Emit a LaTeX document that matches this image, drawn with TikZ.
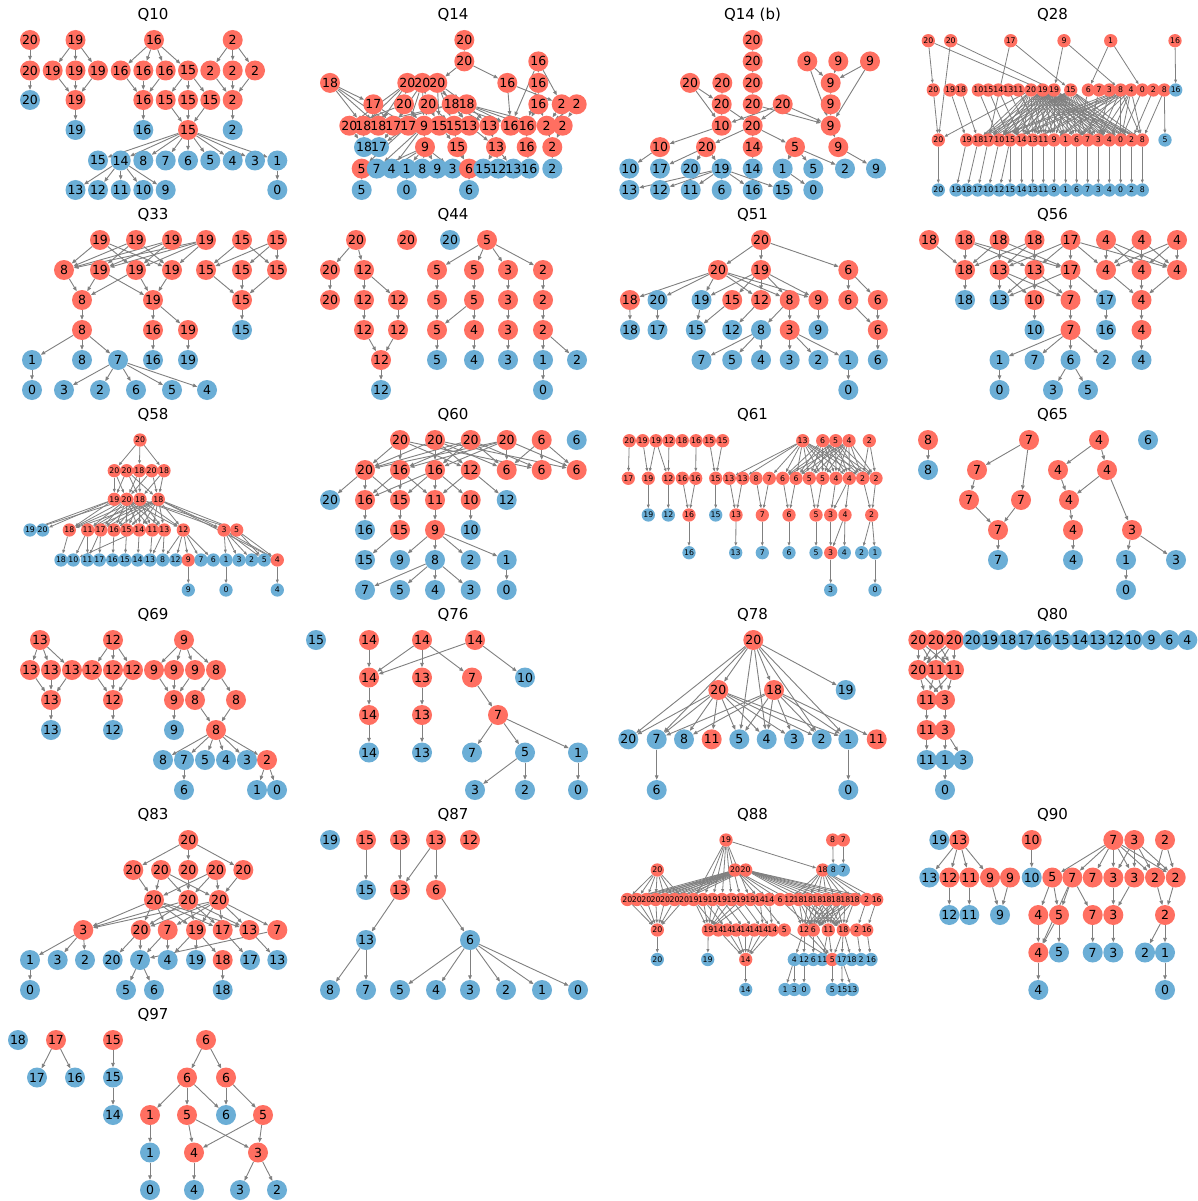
\documentclass[tikz,border=0pt]{standalone}
\usepackage{fontspec}
\setmainfont{DejaVu Sans}
\usetikzlibrary{arrows.meta}
\pgfdeclarelayer{bg}
\pgfsetlayers{bg,main}
\definecolor{nr}{HTML}{FF6F61}
\definecolor{nb}{HTML}{6BAED6}
\definecolor{egray}{HTML}{808080}
\tikzset{
 nd/.style={circle,inner sep=0pt,minimum size=20pt},
 nds/.style={circle,inner sep=0pt,minimum size=13.3pt},
 lbl/.style={inner sep=0pt,font=\fontsize{12.5}{13}\selectfont},
 lbls/.style={inner sep=0pt,font=\fontsize{7.8}{9}\selectfont},
 ed/.style={draw=egray,line width=0.9pt,-{Triangle[length=4.5pt,width=3.6pt]}},
 eds/.style={draw=egray,line width=0.8pt,-{Triangle[length=3.5pt,width=2.8pt]}},
 ttl/.style={anchor=base,font=\fontsize{15}{16}\selectfont},
}
\gdef\alllabels{}
\newcommand\Row[3]{\foreach \xx/\cc/\ll [count=\i] in {#3}{\node[nd,fill=n\cc] (#1-\i) at (\xx,#2) {};\xdef\alllabels{\unexpanded\expandafter{\alllabels}\noexpand\node[lbl] (#1-\i-t) at (\xx,#2) {\ll};}}}
\newcommand\RowS[3]{\foreach \xx/\cc/\ll [count=\i] in {#3}{\node[nds,fill=n\cc] (#1-\i) at (\xx,#2) {};\xdef\alllabels{\unexpanded\expandafter{\alllabels}\noexpand\node[lbls] (#1-\i-t) at (\xx,#2) {\ll};}}}
\newcommand\Ed[1]{\foreach \ea/\eb in {#1}{\draw[ed] (\ea)--(\eb);}}
\newcommand\Es[1]{\foreach \ea/\eb in {#1}{\draw[eds] (\ea)--(\eb);}}
\newcommand\Fan[2]{\foreach \fs in {#1}{\foreach \ft in {#2}{\draw[ed] (\fs)--(\ft);}}}
\newcommand\FanS[2]{\foreach \fs in {#1}{\foreach \ft in {#2}{\draw[eds] (\fs)--(\ft);}}}
\begin{document}
\begin{tikzpicture}[x=1pt,y=-1pt]
\begin{pgfonlayer}{bg}
\fill[white] (0,0) rectangle (1198,1201);
\end{pgfonlayer}
\useasboundingbox (0,0) rectangle (1198,1201);
% titles
\node[ttl] (t1) at (153,19.5) {Q10};
\node[ttl] (t2) at (453,19.5) {Q14};
\node[ttl] (t3) at (752.5,19.5) {Q14 (b)};
\node[ttl] (t4) at (1052.5,19.5) {Q28};
\node[ttl] (t5) at (153,219.5) {Q33};
\node[ttl] (t6) at (453,219.5) {Q44};
\node[ttl] (t7) at (752.5,219.5) {Q51};
\node[ttl] (t8) at (1052.5,219.5) {Q56};
\node[ttl] (t9) at (153,419.5) {Q58};
\node[ttl] (t10) at (453,419.5) {Q60};
\node[ttl] (t11) at (752.5,419.5) {Q61};
\node[ttl] (t12) at (1052.5,419.5) {Q65};
\node[ttl] (t13) at (153,619.5) {Q69};
\node[ttl] (t14) at (453,619.5) {Q76};
\node[ttl] (t15) at (752.5,619.5) {Q78};
\node[ttl] (t16) at (1052.5,619.5) {Q80};
\node[ttl] (t17) at (153,819.5) {Q83};
\node[ttl] (t18) at (453,819.5) {Q87};
\node[ttl] (t19) at (752.5,819.5) {Q88};
\node[ttl] (t20) at (1052.5,819.5) {Q90};
\node[ttl] (t21) at (153,1019.5) {Q97};

% ---------- Q10
\Row{a1}{40}{30/r/20, 75.5/r/19, 154/r/16, 232.7/r/2}
\Row{a2}{70.5}{30/r/20, 52.7/r/19, 75.5/r/19, 98/r/19, 120.7/r/16, 143.3/r/16, 165.7/r/16, 188/r/15, 210.3/r/2, 232.7/r/2, 255/r/2}
\Row{a3}{100}{30/b/20, 75.5/r/19, 143.3/r/16, 165.7/r/15, 188/r/15, 210.3/r/15, 232.7/r/2}
\Row{a4}{130}{75.5/b/19, 143.3/b/16, 188/r/15, 232.7/b/2}
\Row{a5}{160.5}{98/b/15, 120.7/b/14, 143.3/b/8, 165.7/b/7, 188/b/6, 210.3/b/5, 232.7/b/4, 255/b/3, 277.3/b/1}
\Row{a6}{190}{75.5/b/13, 98/b/12, 120.7/b/11, 143.3/b/10, 165.7/b/9, 277.3/b/0}
\begin{pgfonlayer}{bg}
\Ed{a1-1/a2-1, a2-1/a3-1, a1-2/a2-2, a1-2/a2-3, a1-2/a2-4, a2-2/a3-2, a2-3/a3-2, a2-4/a3-2, a3-2/a4-1, a1-3/a2-5, a1-3/a2-6, a1-3/a2-7, a1-3/a2-8, a2-5/a3-3, a2-6/a3-3, a2-7/a3-3, a3-3/a4-2, a2-8/a3-4, a2-8/a3-5, a2-8/a3-6, a3-4/a4-3, a3-5/a4-3, a3-6/a4-3, a1-4/a2-9, a1-4/a2-10, a1-4/a2-11, a2-9/a3-7, a2-10/a3-7, a2-11/a3-7, a3-7/a4-4, a5-9/a6-6}
\Fan{a4-3}{a5-1,a5-2,a5-3,a5-4,a5-5,a5-6,a5-7,a5-8,a5-9}
\Fan{a5-2}{a6-1,a6-2,a6-3,a6-4,a6-5}
\end{pgfonlayer}

% ---------- Q14
\Row{b1}{40}{464.3/r/20}
\Row{b2}{61.4}{464.3/r/20, 538.3/r/16}
\Row{b3}{82.9}{330/r/18, 407.3/r/20, 422.3/r/20, 437.3/r/20, 507.3/r/16, 538.3/r/16}
\Row{b4}{104.3}{373.3/r/17, 404/r/20, 428.3/r/20, 451.7/r/18, 466.7/r/18, 538.3/r/16, 561.7/r/2, 576.7/r/2}
\Row{b5}{125.7}{349.3/r/20, 363.3/r/18, 378.3/r/18, 393.3/r/17, 408.3/r/17, 424/r/9, 439.3/r/15, 454/r/15, 469.3/r/13, 489.3/r/13, 510.7/r/16, 526.7/r/16, 546.7/r/2, 562.7/r/2}
\Row{b6}{147.1}{364/b/18, 379/b/17, 425/r/9, 457.3/r/15, 496/r/13, 526.7/r/16, 552.3/r/2}
\Row{b7}{168.6}{361.7/r/5, 376.7/b/7, 391.7/b/4, 406.7/b/1, 422.3/b/8, 437.3/b/9, 452.7/b/3, 469/r/6, 483.3/b/15, 498.3/b/12, 513.3/b/13, 529.3/b/16, 552.3/b/2}
\Row{b8}{190}{361.7/b/5, 406.7/b/0, 469/b/6}
\begin{pgfonlayer}{bg}
\Ed{b1-1/b2-1, b2-1/b3-4, b2-1/b3-5, b2-2/b3-6, b2-2/b5-11, b2-2/b4-7, b3-6/b4-6, b3-6/b5-12, b4-6/b5-12, b4-6/b5-13, b3-5/b5-11, b3-5/b4-7, b4-7/b5-13, b4-7/b5-14, b4-8/b5-13, b4-8/b5-14, b5-13/b6-7, b5-14/b6-7, b6-7/b7-13, b5-12/b6-6, b6-6/b7-12, b3-1/b4-1, b3-1/b5-2, b3-1/b5-3, b3-1/b5-4, b3-2/b5-1, b3-2/b5-2, b3-2/b5-3, b3-2/b4-2, b3-3/b4-3, b3-3/b5-4, b3-3/b5-5, b3-3/b5-6, b3-4/b4-4, b3-4/b4-5, b3-4/b5-7, b3-4/b5-8, b3-4/b5-9, b4-1/b5-4, b4-1/b5-5, b4-2/b5-1, b4-2/b5-6, b4-3/b5-6, b4-3/b5-7, b4-3/b5-8, b4-4/b5-9, b4-4/b5-10, b4-4/b5-11, b4-5/b5-10, b4-5/b5-11, b4-5/b5-12, b4-5/b5-13, b4-4/b5-2, b4-4/b5-3, b5-1/b6-1, b5-2/b6-1, b5-4/b6-2, b5-5/b6-2, b5-6/b6-3, b5-7/b6-4, b5-8/b6-4, b5-9/b6-5, b5-10/b6-5, b5-6/b7-2, b5-6/b7-3, b5-5/b7-1, b6-3/b7-2, b6-3/b7-3, b6-3/b7-4, b6-3/b7-5, b6-3/b7-6, b6-3/b7-7, b6-4/b7-8, b6-5/b7-9, b6-5/b7-10, b6-5/b7-11, b7-1/b8-1, b7-4/b8-2, b7-8/b8-3}
\end{pgfonlayer}

% ---------- Q14 (b)
\Row{c1}{40}{752.7/r/20}
\Row{c2}{61.4}{752.7/r/20, 807.3/r/9, 838.3/r/9, 870/r/9}
\Row{c3}{82.9}{690/r/20, 722.3/r/20, 752.7/r/20, 830.7/r/9}
\Row{c4}{104.3}{721.7/r/20, 752.7/r/20, 782.7/r/20, 830.7/r/9}
\Row{c5}{125.7}{721.7/r/10, 752.7/r/20, 830.7/r/9}
\Row{c6}{147.1}{660/r/10, 706/r/20, 752.7/r/14, 795/r/5, 838.3/r/9}
\Row{c7}{168.6}{629.3/b/10, 660/b/17, 690.7/b/20, 721.7/b/19, 752.7/b/14, 782.7/b/1, 813.3/b/5, 845/b/2, 876/b/9}
\Row{c8}{190}{629.3/b/13, 660/b/12, 690.7/b/11, 721.7/b/6, 752.7/b/16, 782.7/b/15, 813.3/b/0}
\begin{pgfonlayer}{bg}
\Ed{c1-1/c2-1, c2-1/c3-3, c3-3/c4-2, c4-2/c5-2, c3-1/c4-1, c3-1/c5-1, c3-2/c4-1, c4-1/c5-1, c4-1/c5-2, c4-2/c5-3, c4-3/c5-1, c4-3/c5-2, c4-3/c5-3, c5-2/c6-2, c5-2/c6-3, c5-2/c6-4, c5-1/c6-1, c6-1/c7-1, c6-2/c7-2, c6-2/c7-3, c6-2/c7-4, c6-3/c7-5, c6-4/c7-6, c6-4/c7-7, c6-4/c7-8, c6-5/c7-9, c7-6/c8-7, c2-2/c3-4, c2-2/c5-3, c2-3/c3-4, c2-4/c3-4, c2-4/c5-3, c3-4/c4-4, c4-4/c5-3, c5-3/c6-5}
\Fan{c7-4}{c8-1,c8-2,c8-3,c8-4,c8-5,c8-6}
\end{pgfonlayer}

% ---------- Q28
\RowS{d1}{40.7}{928.3/r/20, 950.7/r/20, 1010.7/r/17, 1064/r/9, 1110.7/r/1, 1175/r/16}
\RowS{d2}{90}{933.3/r/20, 950/r/19, 961/r/18, 978.3/r/10, 988.3/r/15, 998.3/r/14, 1008.3/r/13, 1018.3/r/11, 1031/r/20, 1042.7/r/19, 1054/r/19, 1070.7/r/15, 1088.3/r/6, 1099/r/7, 1109.3/r/3, 1120.7/r/8, 1131/r/4, 1142.3/r/0, 1153.3/r/2, 1164.3/r/8, 1175.7/b/16}
\RowS{d3}{140}{938.3/r/20, 966.7/r/19, 978.3/r/18, 988.3/r/17, 999.3/r/10, 1010/r/15, 1021.7/r/14, 1032.7/r/13, 1043.3/r/11, 1054/r/9, 1065.7/r/1, 1076.7/r/6, 1087.7/r/7, 1098.3/r/3, 1109.3/r/4, 1120.7/r/0, 1131.7/r/2, 1142.3/r/8, 1165/b/5}
\RowS{d4}{190}{938.3/b/20, 956/b/19, 966.7/b/18, 977.7/b/17, 988.3/b/10, 999.3/b/12, 1010/b/15, 1021.7/b/14, 1032.7/b/13, 1043.3/b/11, 1054/b/9, 1065.7/b/1, 1076.7/b/6, 1087.7/b/7, 1098.3/b/3, 1109.3/b/4, 1120.7/b/0, 1131.7/b/2, 1142.3/b/8}
\begin{pgfonlayer}{bg}
\Es{d1-1/d2-1, d1-1/d2-10, d1-2/d3-1, d1-2/d2-11, d2-1/d3-1, d1-3/d2-12, d1-3/d3-4, d1-4/d2-11, d1-4/d2-16, d1-5/d2-13, d1-5/d2-18, d1-6/d2-21, d2-2/d3-2, d2-3/d3-3, d2-4/d3-5, d2-5/d3-6, d2-6/d3-7, d2-7/d3-8, d2-8/d3-9, d2-9/d3-1, d2-20/d3-19, d2-20/d3-18, d2-19/d3-17, d2-18/d3-16, d2-17/d3-15, d2-15/d3-14, d2-14/d3-13, d2-13/d3-12}
\Es{d3-1/d4-1, d3-2/d4-2, d3-3/d4-3, d3-4/d4-4, d3-5/d4-5, d3-6/d4-6, d3-6/d4-7, d3-7/d4-8, d3-8/d4-9, d3-9/d4-10, d3-10/d4-11, d3-11/d4-12, d3-12/d4-13, d3-13/d4-14, d3-14/d4-15, d3-15/d4-16, d3-16/d4-17, d3-17/d4-18, d3-18/d4-19}
\FanS{d2-9,d2-10,d2-11,d2-12}{d3-3,d3-4,d3-5,d3-6,d3-7,d3-8,d3-9,d3-10,d3-11,d3-12,d3-13,d3-14,d3-15,d3-16,d3-17,d3-18}
\FanS{d2-16,d2-17}{d3-4,d3-6,d3-8,d3-10,d3-12,d3-14,d3-16,d3-18}
\end{pgfonlayer}

% ---------- Q33
\Row{m1}{240}{100/r/19, 136/r/19, 172/r/19, 206/r/19, 242/r/15, 277/r/15}
\Row{m2}{270}{64/r/8, 100/r/19, 136/r/19, 172/r/19, 206/r/15, 242/r/15, 277/r/15}
\Row{m3}{300}{82/r/8, 153/r/19, 242/r/15}
\Row{m4}{330}{82/r/8, 153/r/16, 188/r/19, 242/b/15}
\Row{m5}{360}{32/b/1, 82/b/8, 118/b/7, 153/b/16, 188/b/19}
\Row{m6}{390}{32/b/0, 64/b/3, 100/b/2, 136/b/6, 172/b/5, 207/b/4}
\begin{pgfonlayer}{bg}
\Ed{m1-1/m2-1, m1-1/m2-3, m1-1/m2-4, m1-2/m2-1, m1-2/m2-2, m1-2/m2-4, m1-3/m2-1, m1-3/m2-2, m1-3/m2-3, m1-4/m2-1, m1-4/m2-2, m1-4/m2-3, m1-4/m2-4, m1-5/m2-5, m1-5/m2-7, m1-6/m2-5, m1-6/m2-6, m1-6/m2-7, m2-1/m3-1, m2-2/m3-1, m2-2/m3-2, m2-3/m3-1, m2-3/m3-2, m2-4/m3-2, m2-5/m3-3, m2-6/m3-3, m2-7/m3-3, m3-1/m4-1, m3-2/m4-2, m3-2/m4-3, m3-3/m4-4, m4-1/m5-1, m4-1/m5-2, m4-1/m5-3, m4-2/m5-4, m4-3/m5-5, m5-1/m6-1}
\Fan{m5-3}{m6-2,m6-3,m6-4,m6-5,m6-6}
\end{pgfonlayer}

% ---------- Q44
\Row{n1}{240}{356/r/20, 407/r/20, 450/b/20, 487/r/5}
\Row{n2}{270}{330/r/20, 364/r/12, 437/r/5, 474/r/5, 508/r/3, 543/r/2}
\Row{n3}{300}{330/r/20, 364/r/12, 398/r/12, 437/r/5, 474/r/5, 508/r/3, 543/r/2}
\Row{n4}{330}{364/r/12, 398/r/12, 437/r/5, 474/r/4, 508/r/3, 543/r/2}
\Row{n5}{360}{381/r/12, 437/b/5, 474/b/4, 508/b/3, 543/b/1, 577/b/2}
\Row{n6}{390}{381/b/12, 543/b/0}
\begin{pgfonlayer}{bg}
\Ed{n1-1/n2-1, n1-1/n2-2, n2-1/n3-1, n2-2/n3-2, n2-2/n3-3, n3-2/n4-1, n3-3/n4-2, n4-1/n5-1, n4-2/n5-1, n5-1/n6-1, n1-4/n2-3, n1-4/n2-4, n1-4/n2-5, n1-4/n2-6, n2-3/n3-4, n2-4/n3-5, n3-4/n4-3, n3-5/n4-3, n3-5/n4-4, n2-5/n3-6, n3-6/n4-5, n2-6/n3-7, n3-7/n4-6, n4-3/n5-2, n4-4/n5-3, n4-5/n5-4, n4-6/n5-5, n4-6/n5-6, n5-5/n6-2}
\end{pgfonlayer}

% ---------- Q51
\Row{o1}{240}{761/r/20}
\Row{o2}{270}{718/r/20, 761/r/19, 848.3/r/6}
\Row{o3}{300}{629.9/r/18, 657.5/b/20, 701.5/b/19, 732.2/r/15, 761/r/12, 789.7/r/8, 818.4/r/9, 848.3/r/6, 877.8/r/6}
\Row{o4}{330}{630/b/18, 657.5/b/17, 695.8/b/15, 732.2/b/12, 761/b/8, 789.7/r/3, 818.4/b/9, 877.8/r/6}
\Row{o5}{360}{701.5/b/7, 732.2/b/5, 761/b/4, 789.7/b/3, 818.4/b/2, 848.3/b/1, 877.8/b/6}
\Row{o6}{390}{848.3/b/0}
\begin{pgfonlayer}{bg}
\Ed{o1-1/o2-1, o1-1/o2-2, o1-1/o2-3, o2-1/o3-1, o2-1/o3-2, o2-1/o3-3, o2-1/o3-5, o2-1/o3-6, o2-1/o3-7, o2-2/o3-3, o2-2/o3-4, o2-2/o3-5, o2-2/o3-6, o2-2/o3-7, o2-3/o3-8, o2-3/o3-9, o3-1/o4-1, o3-2/o4-2, o3-3/o4-3, o3-4/o4-3, o3-5/o4-4, o3-6/o4-5, o3-6/o4-6, o3-7/o4-7, o3-8/o4-8, o3-9/o4-8, o4-5/o5-1, o4-5/o5-2, o4-5/o5-3, o4-6/o5-4, o4-6/o5-5, o4-6/o5-6, o4-8/o5-7, o5-6/o6-1}
\end{pgfonlayer}

% ---------- Q56
\Row{p1}{240}{929/r/18, 965/r/18, 999.5/r/18, 1034.5/r/18, 1070.5/r/17, 1106/r/4, 1141.5/r/4, 1177/r/4}
\Row{p2}{270}{965/r/18, 999.5/r/13, 1034.5/r/13, 1070.5/r/17, 1106/r/4, 1141.5/r/4, 1177/r/4}
\Row{p3}{300}{965/b/18, 999.5/b/13, 1034.5/r/10, 1070.5/r/7, 1106/b/17, 1141.5/r/4}
\Row{p4}{330}{1034.5/b/10, 1070.5/r/7, 1106/b/16, 1141.5/r/4}
\Row{p5}{360}{999.5/b/1, 1034.5/b/7, 1070.5/b/6, 1106/b/2, 1141.5/b/4}
\Row{p6}{390}{999.5/b/0, 1053/b/3, 1088/b/5}
\begin{pgfonlayer}{bg}
\Ed{p1-1/p2-1, p1-2/p2-1, p1-2/p2-3, p1-2/p2-4, p1-3/p2-1, p1-3/p2-2, p1-3/p2-4, p1-4/p2-1, p1-4/p2-2, p1-4/p2-3, p1-5/p2-2, p1-5/p2-3, p1-5/p2-4, p1-5/p2-5, p1-5/p2-7, p1-6/p2-5, p1-6/p2-6, p1-6/p2-7, p1-7/p2-5, p1-7/p2-6, p1-7/p2-7, p1-8/p2-5, p1-8/p2-6, p1-8/p2-7, p2-1/p3-1, p2-2/p3-2, p2-2/p3-3, p2-2/p3-4, p2-3/p3-2, p2-3/p3-3, p2-3/p3-4, p2-4/p3-2, p2-4/p3-4, p2-4/p3-5, p2-5/p3-6, p2-6/p3-6, p2-7/p3-6, p3-3/p4-1, p3-4/p4-2, p3-5/p4-3, p3-6/p4-4, p4-2/p5-1, p4-2/p5-2, p4-2/p5-3, p4-2/p5-4, p4-4/p5-5, p5-1/p6-1, p5-3/p6-2, p5-3/p6-3}
\end{pgfonlayer}

% ---------- Q58
\RowS{e1}{440}{140/r/20}
\RowS{e2}{470.7}{114.3/r/20, 126.7/r/20, 139.3/r/18, 151.7/r/20, 164/r/18}
\RowS{e3}{499.3}{114.3/r/19, 126.7/r/20, 140/r/18, 158.3/r/18}
\RowS{e4}{530}{30/b/19, 42.7/b/20, 69.3/r/18, 87.7/r/11, 100.7/r/17, 114/r/16, 126.7/r/15, 139.3/r/14, 152.3/r/11, 164.3/r/13, 183.3/r/12, 224/r/3, 236.7/r/5}
\RowS{e5}{560}{61/b/18, 73.3/b/10, 87.3/b/11, 99.3/b/17, 112.7/b/16, 125/b/15, 137.7/b/14, 150/b/13, 162.7/b/8, 175.7/b/12, 188.3/r/9, 201/b/7, 213.3/b/6, 226/b/1, 239/b/3, 251.7/b/2, 264.3/b/5, 277.3/r/4}
\RowS{e6}{590}{188.3/b/9, 226/b/0, 277.3/b/4}
\begin{pgfonlayer}{bg}
\Es{e1-1/e2-1, e1-1/e2-3, e1-1/e2-5, e2-1/e3-1, e2-1/e3-2, e2-2/e3-1, e2-2/e3-3, e2-3/e3-2, e2-3/e3-3, e2-4/e3-2, e2-4/e3-4, e2-5/e3-4, e2-5/e3-3, e2-2/e3-4, e3-1/e4-1, e3-1/e4-2, e3-2/e4-1, e3-1/e4-3, e3-3/e4-12, e3-3/e4-13, e3-4/e4-12, e3-4/e4-13, e3-4/e5-18}
\FanS{e3-2,e3-3,e3-4}{e4-3,e4-4,e4-5,e4-6,e4-7,e4-8,e4-9,e4-10,e4-11}
\Es{e4-3/e5-1, e4-4/e5-2, e4-4/e5-3, e4-5/e5-3, e4-5/e5-4, e4-6/e5-5, e4-7/e5-6, e4-8/e5-7, e4-8/e5-2, e4-9/e5-8, e4-10/e5-8, e4-10/e5-9, e4-11/e5-9, e4-11/e5-10, e4-11/e5-11, e4-11/e5-12, e4-11/e5-13, e4-12/e5-14, e4-12/e5-15, e4-12/e5-16, e4-12/e5-17, e4-12/e5-18, e4-13/e5-17, e4-13/e5-18, e5-11/e6-1, e5-14/e6-2, e5-18/e6-3}
\end{pgfonlayer}

% ---------- Q60
\Row{g1}{440}{400/r/20, 435/r/20, 470.7/r/20, 506.7/r/20, 541.7/r/6, 576.7/b/6}
\Row{g2}{470}{365/r/20, 400/r/16, 435/r/16, 470.7/r/12, 506.7/r/6, 541.7/r/6, 576.7/r/6}
\Row{g3}{500}{330/b/20, 365/r/16, 400/r/15, 435/r/11, 470.7/r/10, 506.7/b/12}
\Row{g4}{530}{365/b/16, 400/r/15, 435/r/9, 470.7/b/10}
\Row{g5}{560}{365/b/15, 400/b/9, 435/b/8, 470.7/b/2, 506.7/b/1}
\Row{g6}{590}{365/b/7, 400/b/5, 435/b/4, 470.7/b/3, 506.7/b/0}
\begin{pgfonlayer}{bg}
\Fan{g1-1}{g2-1,g2-2,g2-4,g2-6}
\Fan{g1-2}{g2-1,g2-3,g2-4,g2-5,g2-7}
\Fan{g1-3}{g2-1,g2-2,g2-3,g2-5,g2-6}
\Fan{g1-4}{g2-1,g2-2,g2-3,g2-5,g2-7}
\Fan{g1-5}{g2-5,g2-6,g2-7}
\Ed{g2-1/g3-1, g2-1/g3-2, g2-1/g3-3, g2-2/g3-2, g2-2/g3-3, g2-2/g3-4, g2-3/g3-2, g2-3/g3-3, g2-3/g3-4, g2-3/g3-5, g2-4/g3-4, g2-4/g3-6, g3-2/g4-1, g3-3/g4-2, g3-4/g4-3, g3-5/g4-4, g4-2/g5-1, g5-5/g6-5}
\Fan{g4-3}{g5-2,g5-3,g5-4,g5-5}
\Fan{g5-3}{g6-1,g6-2,g6-3,g6-4}
\end{pgfonlayer}

% ---------- Q61
\RowS{f1}{440.7}{629.3/r/20, 642.7/r/19, 656/r/19, 669/r/12, 682.3/r/18, 696/r/16, 709.3/r/15, 722.7/r/15, 802.7/r/13, 822.7/r/6, 835.7/r/5, 849/r/4, 869.3/r/2}
\RowS{f2}{478.3}{628.3/r/17, 648.3/r/19, 668.3/r/12, 682.3/r/16, 695.7/r/16, 715.7/r/15, 729.3/r/13, 742.7/r/13, 756/r/8, 769.3/r/7, 782.7/r/6, 796/r/6, 809.3/r/5, 822.7/r/5, 836/r/4, 849.3/r/4, 862.7/r/2, 876/r/2}
\RowS{f3}{515}{648.3/b/19, 668.3/b/12, 689/r/16, 715.7/b/15, 736/r/13, 762.3/r/7, 789/r/6, 816/r/5, 830.7/r/3, 845/r/4, 871.7/r/2}
\RowS{f4}{552.7}{689/b/16, 735.7/b/13, 762.3/b/7, 789/b/6, 816/b/5, 830.7/r/3, 844.3/b/4, 861.7/b/2, 875/b/1}
\RowS{f5}{590}{830.7/b/3, 875/b/0}
\begin{pgfonlayer}{bg}
\Es{f1-1/f2-1, f1-2/f2-2, f1-3/f2-2, f1-3/f2-3, f1-4/f2-3, f1-6/f2-5, f1-7/f2-6, f1-8/f2-6, f1-13/f2-17, f1-13/f2-18}
\FanS{f1-9}{f2-7,f2-8,f2-10,f2-11,f2-12,f2-13,f2-14,f2-15,f2-16,f2-17,f2-18}
\FanS{f1-10,f1-11,f1-12}{f2-11,f2-12,f2-13,f2-14,f2-15,f2-16,f2-17,f2-18}
\Es{f2-2/f3-1, f2-3/f3-2, f2-4/f3-3, f2-5/f3-3, f2-6/f3-4, f2-7/f3-5, f2-8/f3-5, f2-9/f3-6, f2-10/f3-6, f2-11/f3-7, f2-12/f3-7, f2-13/f3-8, f2-14/f3-8, f2-15/f3-9, f2-16/f3-10, f2-16/f3-9, f2-17/f3-11, f2-18/f3-11, f3-3/f4-1, f3-5/f4-2, f3-6/f4-3, f3-7/f4-4, f3-8/f4-5, f3-9/f4-6, f3-10/f4-6, f3-10/f4-7, f3-11/f4-8, f3-11/f4-9, f4-6/f5-1, f4-9/f5-2}
\end{pgfonlayer}

% ---------- Q65
\Row{q1}{440}{928/r/8, 1029/r/7, 1099/r/4, 1148/b/6}
\Row{q2}{470}{928/b/8, 977/r/7, 1058/r/4, 1107/r/4}
\Row{q3}{500}{969/r/7, 1021/r/7, 1069/r/4}
\Row{q4}{530}{998/r/7, 1073/r/4, 1132/r/3}
\Row{q5}{560}{998/b/7, 1073/b/4, 1126/b/1, 1176/b/3}
\Row{q6}{590}{1126/b/0}
\begin{pgfonlayer}{bg}
\Ed{q1-1/q2-1, q1-2/q2-2, q1-2/q3-2, q1-3/q2-3, q1-3/q2-4, q2-2/q3-1, q2-3/q3-3, q2-4/q3-3, q2-4/q4-3, q3-1/q4-1, q3-2/q4-1, q3-3/q4-2, q4-1/q5-1, q4-2/q5-2, q4-3/q5-3, q4-3/q5-4, q5-3/q6-1}
\end{pgfonlayer}

% ---------- Q69
\Row{s1}{640}{40/r/13, 113/r/12, 184/r/9}
\Row{s2}{670}{30/r/13, 51/r/13, 72/r/13, 92/r/12, 113/r/12, 133/r/12, 154/r/9, 174/r/9, 195/r/9, 216/r/8}
\Row{s3}{700}{51/r/13, 113/r/12, 174/r/9, 195/r/8, 236/r/8}
\Row{s4}{730}{51/b/13, 113/b/12, 174/b/9, 216/r/8}
\Row{s5}{760}{163/b/8, 184/b/7, 205/b/5, 226/b/4, 247/b/3, 267/r/2}
\Row{s6}{790}{184/b/6, 257/b/1, 277/b/0}
\begin{pgfonlayer}{bg}
\Ed{s1-1/s2-1, s1-1/s2-2, s1-1/s2-3, s2-1/s3-1, s2-2/s3-1, s2-3/s3-1, s3-1/s4-1, s1-2/s2-4, s1-2/s2-5, s1-2/s2-6, s2-4/s3-2, s2-5/s3-2, s2-6/s3-2, s3-2/s4-2, s1-3/s2-7, s1-3/s2-8, s1-3/s2-9, s1-3/s2-10, s2-7/s3-3, s2-8/s3-3, s2-9/s3-3, s2-10/s3-4, s2-10/s3-5, s3-3/s4-3, s3-4/s4-4, s3-5/s4-4, s5-2/s6-1, s5-6/s6-2, s5-6/s6-3}
\Fan{s4-4}{s5-1,s5-2,s5-3,s5-4,s5-5,s5-6}
\end{pgfonlayer}

% ---------- Q76
\Row{t1}{640}{316/b/15, 369/r/14, 422/r/14, 475/r/14}
\Row{t2}{677.5}{369/r/14, 422/r/13, 472/r/7, 525/b/10}
\Row{t3}{715}{369/r/14, 422/r/13, 498/r/7}
\Row{t4}{752.5}{369/b/14, 422/b/13, 472/b/7, 525/b/5, 578/b/1}
\Row{t5}{790}{475/b/3, 525/b/2, 578/b/0}
\begin{pgfonlayer}{bg}
\Ed{t1-2/t2-1, t1-3/t2-1, t1-3/t2-2, t1-3/t2-3, t1-4/t2-1, t1-4/t2-4, t2-1/t3-1, t2-2/t3-2, t2-3/t3-3, t3-1/t4-1, t3-2/t4-2, t3-3/t4-3, t3-3/t4-4, t3-3/t4-5, t4-4/t5-1, t4-4/t5-2, t4-5/t5-3}
\end{pgfonlayer}

% ---------- Q78
\Row{i1}{640}{753.3/r/20}
\Row{i2}{690}{718.3/r/20, 774/r/18, 845.7/b/19}
\Row{i3}{739.3}{628.3/b/20, 656.7/b/7, 684/b/8, 711.7/r/11, 739.3/b/5, 766.7/b/4, 794/b/3, 821.7/b/2, 848.3/b/1, 876.7/r/11}
\Row{i4}{790}{656.7/b/6, 848.3/b/0}
\begin{pgfonlayer}{bg}
\Fan{i1-1}{i2-1,i2-2,i2-3,i3-1,i3-2,i3-5,i3-6,i3-8,i3-9}
\Fan{i2-1}{i3-1,i3-2,i3-3,i3-4,i3-5,i3-6,i3-7,i3-8,i3-9}
\Fan{i2-2}{i3-2,i3-3,i3-5,i3-6,i3-7,i3-8,i3-9,i3-10}
\Ed{i3-2/i4-1, i3-9/i4-2}
\end{pgfonlayer}

% ---------- Q80
\Row{h1}{640}{918.3/r/20, 936/r/20, 954/r/20, 972.7/b/20, 990/b/19, 1008.3/b/18, 1025.7/b/17, 1043.3/b/16, 1061.7/b/15, 1080/b/14, 1097.7/b/13, 1115.7/b/12, 1133.3/b/10, 1151.7/b/9, 1169.3/b/6, 1187.3/b/4}
\Row{h2}{670}{918.3/r/20, 936/r/11, 954/r/11}
\Row{h3}{700}{926.7/r/11, 945/r/3}
\Row{h4}{730}{926.7/r/11, 945/r/3}
\Row{h5}{760}{926.7/b/11, 945/b/1, 963.3/b/3}
\Row{h6}{790}{945/b/0}
\begin{pgfonlayer}{bg}
\Fan{h1-1,h1-2,h1-3}{h2-1,h2-2,h2-3}
\Fan{h2-1,h2-2,h2-3}{h3-1,h3-2}
\Ed{h3-1/h4-1, h3-2/h4-2, h4-1/h5-1, h4-2/h5-2, h4-2/h5-3, h5-2/h6-1}
\end{pgfonlayer}

% ---------- Q83
\Row{j1}{840}{188.3/r/20}
\Row{j2}{870}{133.3/r/20, 161/r/20, 188.3/r/20, 216/r/20, 243.3/r/20}
\Row{j3}{900}{154/r/20, 188.3/r/20, 219/r/20}
\Row{j4}{930}{83.3/r/3, 140.7/r/20, 167.7/r/7, 196/r/19, 222.7/r/17, 249.3/r/13, 277.3/r/7}
\Row{j5}{960}{30/b/1, 57.7/b/3, 85/b/2, 112.7/b/20, 140/b/7, 167.7/b/4, 196/b/19, 222.7/r/18, 250/b/17, 277.3/b/13}
\Row{j6}{990}{30/b/0, 126/b/5, 154/b/6, 222.7/b/18}
\begin{pgfonlayer}{bg}
\Ed{j1-1/j2-1, j1-1/j2-3, j1-1/j2-5, j2-1/j3-1, j2-2/j3-1, j2-2/j3-2, j2-2/j3-3, j2-3/j3-2, j2-4/j3-1, j2-4/j3-2, j2-4/j3-3, j2-5/j3-3}
\Fan{j3-1}{j4-1,j4-2,j4-3,j4-4,j4-5,j4-6}
\Fan{j3-2}{j4-1,j4-2,j4-4,j4-5,j4-6}
\Fan{j3-3}{j4-1,j4-2,j4-3,j4-4,j4-5,j4-6,j4-7}
\Ed{j4-1/j5-1, j4-1/j5-2, j4-1/j5-3, j4-2/j5-4, j4-2/j5-5, j4-3/j5-5, j4-3/j5-6, j4-4/j5-6, j4-4/j5-7, j4-4/j5-8, j4-5/j5-9, j4-6/j5-10, j4-7/j5-5, j5-1/j6-1, j5-5/j6-2, j5-5/j6-3, j5-8/j6-4}
\end{pgfonlayer}

% ---------- Q87
\Row{u1}{840}{330/b/19, 366/r/15, 400/r/13, 436/r/13, 470/r/12}
\Row{u2}{890}{366/b/15, 400/r/13, 436/r/6}
\Row{u3}{940}{366/b/13, 470/b/6}
\Row{u4}{990}{330/b/8, 366/b/7, 400/b/5, 436/b/4, 470/b/3, 506/b/2, 542/b/1, 578/b/0}
\begin{pgfonlayer}{bg}
\Ed{u1-2/u2-1, u1-3/u2-2, u1-4/u2-2, u1-4/u2-3, u2-2/u3-1, u2-3/u3-2, u3-1/u4-1, u3-1/u4-2}
\Fan{u3-2}{u4-3,u4-4,u4-5,u4-6,u4-7,u4-8}
\end{pgfonlayer}

% ---------- Q88
\RowS{k1}{840}{726/r/19, 832.7/r/8, 843.3/r/7}
\RowS{k2}{870}{657.3/r/20, 735/r/20, 745.7/r/20, 822.7/r/18, 833.3/b/8, 843.3/b/7}
\RowS{k3}{899.5}{627.3/r/20, 636.8/r/20, 646.3/r/20, 655.7/r/20, 665.2/r/20, 674.7/r/20, 684.1/r/20, 693.6/r/19, 703.1/r/19, 712.5/r/19, 722/r/19, 731.5/r/19, 740.9/r/19, 750.4/r/19, 759.9/r/14, 769.3/r/14, 780/r/6, 789.3/r/12, 798.7/r/18, 808/r/18, 817.3/r/18, 826.7/r/18, 836/r/18, 845.3/r/18, 854.7/r/18, 866.7/r/2, 876.7/r/16}
\RowS{k4}{930}{657.3/r/20, 708.3/r/19, 718.3/r/14, 727.3/r/14, 736.3/r/14, 745.3/r/14, 754.3/r/14, 763.3/r/14, 772.3/r/14, 784.3/r/5, 804/r/12, 813.3/r/6, 828.3/r/11, 843.3/r/18, 856.7/r/2, 866.7/r/16}
\RowS{k5}{959.5}{657.3/b/20, 707.7/b/19, 745.7/r/14, 794.3/b/4, 804/b/12, 813.3/b/6, 822.3/b/11, 832.3/r/5, 841.7/b/17, 851.7/b/18, 861/b/2, 871/b/16}
\RowS{k6}{989.5}{745.7/b/14, 785/b/1, 794.3/b/3, 804/b/0, 832.3/b/5, 842.3/b/15, 852.3/b/13}
\begin{pgfonlayer}{bg}
\FanS{k1-1}{k3-8,k3-9,k3-10,k3-11,k3-12,k3-13,k3-14,k2-4}
\Es{k1-2/k2-5, k1-3/k2-6, k4-1/k5-1}
\FanS{k2-1}{k3-1,k3-2,k3-3,k3-4,k3-5,k3-6,k3-7}
\FanS{k3-1,k3-2,k3-3,k3-4,k3-5,k3-6,k3-7}{k4-1}
\FanS{k2-2}{k3-1,k3-2,k3-3,k3-4,k3-5,k3-6,k3-7,k3-15,k3-16,k3-17,k3-18}
\FanS{k2-3}{k3-1,k3-2,k3-3,k3-4,k3-5,k3-6,k3-7,k3-19,k3-20,k3-21,k3-22,k3-23,k3-24,k3-25,k3-26,k3-27}
\FanS{k2-4}{k3-18,k3-19,k3-20,k3-21,k3-22,k3-23,k3-24,k3-25,k3-26,k3-27}
\FanS{k3-8,k3-9,k3-10,k3-11,k3-12,k3-13,k3-14}{k4-2}
\Es{k3-8/k4-3, k3-9/k4-4, k3-10/k4-5, k3-11/k4-6, k3-12/k4-7, k3-13/k4-8, k3-14/k4-9, k3-15/k4-8, k3-16/k4-9, k3-15/k4-10}
\FanS{k4-3,k4-4,k4-5,k4-6,k4-7,k4-8,k4-9}{k5-3}
\Es{k4-2/k5-2, k5-3/k6-1, k4-10/k5-8}
\FanS{k3-19,k3-20,k3-21,k3-22,k3-23,k3-24,k3-25}{k4-11,k4-12,k4-13,k4-14}
\Es{k3-26/k4-15, k3-27/k4-16, k3-17/k4-12, k3-18/k4-11, k4-11/k5-4, k4-11/k5-5, k4-12/k5-6, k4-13/k5-7, k4-13/k5-8, k4-14/k5-8, k4-14/k5-9, k4-14/k5-10, k4-15/k5-11, k4-16/k5-12, k4-11/k5-8, k4-12/k5-8, k5-4/k6-2, k5-4/k6-3, k5-5/k6-4, k5-8/k6-5, k5-9/k6-6, k5-9/k6-7}
\end{pgfonlayer}

% ---------- Q90
\Row{l1}{840}{939.3/b/19, 959.3/r/13, 1031.7/r/10, 1113.3/r/7, 1134.3/r/3, 1165/r/2}
\Row{l2}{877.5}{929.3/b/13, 949.3/r/12, 969.3/r/11, 990/r/9, 1010/r/9, 1031.7/b/10, 1052.3/r/5, 1072.3/r/7, 1092.7/r/7, 1113.3/r/3, 1134.3/r/3, 1155/r/2, 1175.7/r/2}
\Row{l3}{915}{949.3/b/12, 969.3/b/11, 1000/b/9, 1038.3/r/4, 1059/r/5, 1092.7/r/7, 1113.3/r/3, 1165/r/2}
\Row{l4}{952.5}{1038.3/r/4, 1059/b/5, 1092.7/b/7, 1113.3/b/3, 1145/b/2, 1165/b/1}
\Row{l5}{990}{1038.3/b/4, 1165/b/0}
\begin{pgfonlayer}{bg}
\Fan{l1-2}{l2-1,l2-2,l2-3,l2-4}
\Fan{l1-4}{l2-7,l2-8,l2-9,l2-10,l2-11,l2-12,l2-13}
\Fan{l1-5}{l2-10,l2-11,l2-12,l2-13}
\Fan{l1-6}{l2-12,l2-13}
\Ed{l2-2/l3-1, l2-3/l3-2, l2-4/l3-3, l2-5/l3-3, l1-3/l2-6, l2-7/l3-4, l2-7/l3-5, l2-8/l3-5, l2-8/l3-6, l2-8/l4-1, l2-10/l3-7, l2-11/l3-7, l2-12/l3-8, l2-13/l3-8, l3-4/l4-1, l3-5/l4-1, l3-5/l4-2, l3-6/l4-3, l3-7/l4-4, l3-8/l4-5, l3-8/l4-6, l4-1/l5-1, l4-6/l5-2}
\end{pgfonlayer}

% ---------- Q97
\Row{v1}{1040}{18/b/18, 56/r/17, 113/r/15, 206/r/6}
\Row{v2}{1077.5}{37/b/17, 75/b/16, 113/b/15, 187/r/6, 226/r/6}
\Row{v3}{1115}{113/b/14, 150/r/1, 187/r/5, 226/b/6, 263/r/5}
\Row{v4}{1152.5}{150/b/1, 194/r/4, 258/r/3}
\Row{v5}{1190}{150/b/0, 194/b/4, 240/b/3, 277/b/2}
\begin{pgfonlayer}{bg}
\Ed{v1-2/v2-1, v1-2/v2-2, v1-3/v2-3, v2-3/v3-1, v1-4/v2-4, v1-4/v2-5, v2-4/v3-2, v2-4/v3-3, v2-4/v3-4, v2-5/v3-4, v2-5/v3-5, v3-2/v4-1, v4-1/v5-1, v3-3/v4-2, v3-3/v4-3, v3-5/v4-3, v3-5/v4-2, v4-2/v5-2, v4-3/v5-3, v4-3/v5-4}
\end{pgfonlayer}

% ---------- all labels on top of all circles
\alllabels
\end{tikzpicture}
\end{document}
